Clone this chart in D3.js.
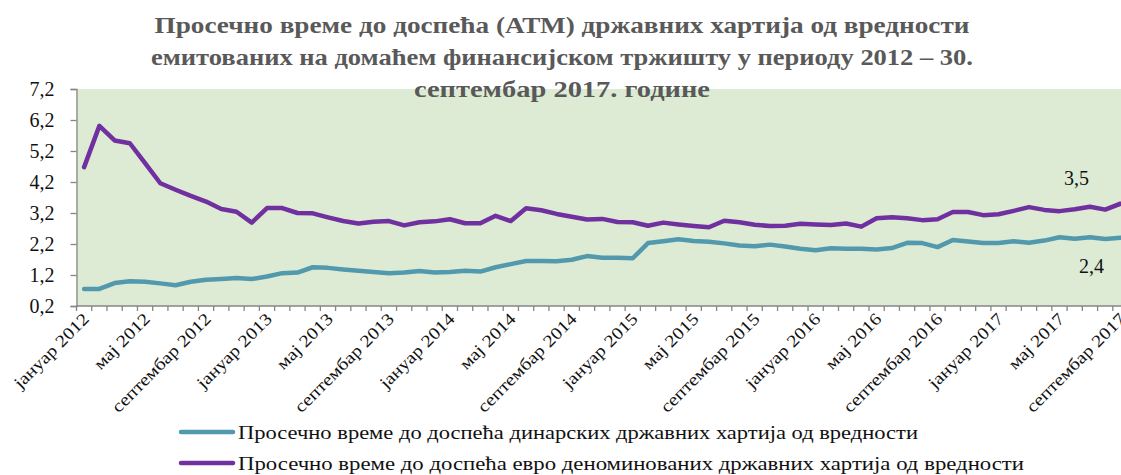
<!DOCTYPE html>
<html>
<head>
<meta charset="utf-8">
<script src="https://cdn.jsdelivr.net/npm/d3@7/dist/d3.min.js"></script>
<style>
  html, body { margin: 0; padding: 0; background: #fff; overflow: hidden; }
  svg { display: block; }
  text { font-family: "Liberation Serif", "DejaVu Serif", serif; }
</style>
</head>
<body>
<svg id="chart" width="1121" height="475"></svg>
<script>
// Month names and years that make up the category axis (January 2012 – September 2017)
const monthNames = ["јануар", "фебруар", "март", "април", "мај", "јун",
                    "јул", "август", "септембар", "октобар", "новембар", "децембар"];
const years = [2012, 2013, 2014, 2015, 2016, 2017];
const lastMonthIndex = 8; // September 2017

const categories = [];
years.forEach(y => monthNames.forEach((m, mi) => {
  if (y < 2017 || mi <= lastMonthIndex) categories.push(m + " " + y);
}));

// Every fourth month carries a label
const tickLabelStep = 4;

// Average time to maturity, dinar-denominated securities (years)
const dinarATM = [
  0.75, 0.75, 0.94, 1.00, 0.98, 0.93, 0.87, 0.98, 1.05, 1.07,
  1.10, 1.07, 1.15, 1.26, 1.28, 1.45, 1.43, 1.38, 1.34, 1.30,
  1.26, 1.28, 1.33, 1.28, 1.30, 1.34, 1.31, 1.45, 1.55, 1.65,
  1.65, 1.64, 1.69, 1.81, 1.76, 1.76, 1.74, 2.23, 2.29, 2.35,
  2.30, 2.27, 2.22, 2.15, 2.13, 2.18, 2.12, 2.05, 2.00, 2.06,
  2.05, 2.05, 2.02, 2.07, 2.24, 2.23, 2.10, 2.33, 2.28, 2.23,
  2.23, 2.29, 2.24, 2.31, 2.42, 2.37, 2.42, 2.36, 2.4
];

// Average time to maturity, euro-denominated securities (years)
const euroATM = [
  4.68, 6.01, 5.54, 5.45, 4.81, 4.16, 3.95, 3.75, 3.57, 3.33,
  3.24, 2.89, 3.36, 3.36, 3.20, 3.19, 3.06, 2.94, 2.86, 2.92,
  2.94, 2.80, 2.90, 2.93, 3.00, 2.87, 2.87, 3.11, 2.94, 3.35,
  3.29, 3.17, 3.08, 2.99, 3.01, 2.91, 2.90, 2.79, 2.89, 2.83,
  2.78, 2.74, 2.95, 2.90, 2.82, 2.78, 2.79, 2.85, 2.83, 2.81,
  2.86, 2.76, 3.03, 3.06, 3.03, 2.97, 3.00, 3.23, 3.23, 3.13,
  3.16, 3.27, 3.39, 3.30, 3.26, 3.32, 3.40, 3.31, 3.5
];

// Y axis tick values
const yTicks = [0.2, 1.2, 2.2, 3.2, 4.2, 5.2, 6.2, 7.2];

const titleLines = [
  "Просечно време до доспећа (АТМ) државних хартија од вредности",
  "емитованих на домаћем финансијском тржишту у периоду 2012 – 30.",
  "септембар 2017. године"
];

const seriesNames = [
  "Просечно време до доспећа динарских државних хартија од вредности",
  "Просечно време до доспећа евро деноминованих државних хартија од вредности"
];

const colors = { dinar: "#5299ae", euro: "#7030a0" };

// ---- layout ----
const plot = { left: 76.5, top: 89, bottom: 306 };
const step = 15.24;
plot.right = plot.left + step * categories.length;

const svg = d3.select("#chart");

const x = d3.scaleBand()
  .domain(d3.range(categories.length))
  .range([plot.left, plot.right])
  .paddingInner(0).paddingOuter(0);
const xc = i => x(i) + x.bandwidth() / 2;

const y = d3.scaleLinear().domain([0.2, 7.2]).range([plot.bottom, plot.top]);

// Plot background
svg.append("rect")
  .attr("x", plot.left).attr("y", plot.top)
  .attr("width", plot.right - plot.left)
  .attr("height", plot.bottom - plot.top)
  .attr("fill", "#ddebd4");

// Y axis
const yAxis = d3.axisLeft(y)
  .tickValues(yTicks)
  .tickSize(6)
  .tickPadding(16)
  .tickFormat(d => d3.format(".1f")(d).replace(".", ","));

const gy = svg.append("g")
  .attr("transform", `translate(${plot.left},0)`)
  .call(yAxis);
gy.select(".domain").attr("stroke", "#868686").attr("stroke-width", 1.3);
gy.selectAll(".tick line").attr("stroke", "#868686").attr("stroke-width", 1.3);
gy.selectAll(".tick text")
  .attr("font-family", "Liberation Serif, DejaVu Serif, serif")
  .attr("font-size", 20).attr("fill", "#111");

// X axis: line, boundary ticks, rotated month labels
const gx = svg.append("g");
gx.append("line")
  .attr("x1", plot.left).attr("x2", plot.right)
  .attr("y1", plot.bottom).attr("y2", plot.bottom)
  .attr("stroke", "#868686").attr("stroke-width", 1.3);
gx.selectAll("line.tk")
  .data(d3.range(categories.length + 1))
  .join("line")
  .attr("class", "tk")
  .attr("x1", i => plot.left + i * x.step())
  .attr("x2", i => plot.left + i * x.step())
  .attr("y1", plot.bottom).attr("y2", plot.bottom + 5)
  .attr("stroke", "#868686").attr("stroke-width", 1.3);

gx.selectAll("text.xl")
  .data(categories.map((c, i) => ({ c, i })).filter(d => d.i % tickLabelStep === 0))
  .join("text")
  .attr("class", "xl")
  .attr("text-anchor", "end")
  .attr("font-size", 17)
  .attr("fill", "#111")
  .attr("transform", d => `translate(${xc(d.i) + 6},${plot.bottom + 14}) rotate(-45)`)
  .text(d => d.c)
  .each(function () {
    // widen the glyph run slightly to match the wider serif face
    const w = this.getComputedTextLength();
    d3.select(this).attr("textLength", w * 1.17).attr("lengthAdjust", "spacingAndGlyphs");
  });

// Series lines
const line = d3.line()
  .x((d, i) => xc(i))
  .y(d => y(d));

svg.append("path")
  .datum(dinarATM)
  .attr("d", line)
  .attr("fill", "none")
  .attr("stroke", colors.dinar)
  .attr("stroke-width", 4.5)
  .attr("stroke-linejoin", "round")
  .attr("stroke-linecap", "round");

svg.append("path")
  .datum(euroATM)
  .attr("d", line)
  .attr("fill", "none")
  .attr("stroke", colors.euro)
  .attr("stroke-width", 4.5)
  .attr("stroke-linejoin", "round")
  .attr("stroke-linecap", "round");

// End-of-period value labels
const last = categories.length - 1;
const fmt = d => String(d).replace(".", ",");
svg.append("text")
  .attr("x", xc(last) - 44).attr("y", y(euroATM[last]) - 19)
  .attr("text-anchor", "middle").attr("font-size", 20).attr("fill", "#111")
  .text(fmt(euroATM[last]));
svg.append("text")
  .attr("x", xc(last) - 29).attr("y", y(dinarATM[last]) + 35)
  .attr("text-anchor", "middle").attr("font-size", 20).attr("fill", "#111")
  .text(fmt(dinarATM[last]));

// Title
const titleWidths = [815, 822, 296];
const titleBase = [33, 65, 97];
svg.append("g").selectAll("text")
  .data(titleLines)
  .join("text")
  .attr("x", 562)
  .attr("y", (d, i) => titleBase[i])
  .attr("text-anchor", "middle")
  .attr("font-size", 24)
  .attr("font-weight", "bold")
  .attr("fill", "#595959")
  .attr("textLength", (d, i) => titleWidths[i])
  .attr("lengthAdjust", "spacingAndGlyphs")
  .text(d => d);

// Legend
const legendRows = [
  { name: seriesNames[0], color: colors.dinar, y: 432, w: 680 },
  { name: seriesNames[1], color: colors.euro, y: 463, w: 786 }
];
const lg = svg.append("g");
lg.selectAll("line")
  .data(legendRows)
  .join("line")
  .attr("x1", 181).attr("x2", 233)
  .attr("y1", d => d.y).attr("y2", d => d.y)
  .attr("stroke", d => d.color)
  .attr("stroke-width", 4.5)
  .attr("stroke-linecap", "round");
lg.selectAll("text")
  .data(legendRows)
  .join("text")
  .attr("x", 238)
  .attr("y", d => d.y + 7)
  .attr("font-size", 19)
  .attr("fill", "#111")
  .attr("textLength", d => d.w)
  .attr("lengthAdjust", "spacingAndGlyphs")
  .text(d => d.name);
</script>
</body>
</html>
